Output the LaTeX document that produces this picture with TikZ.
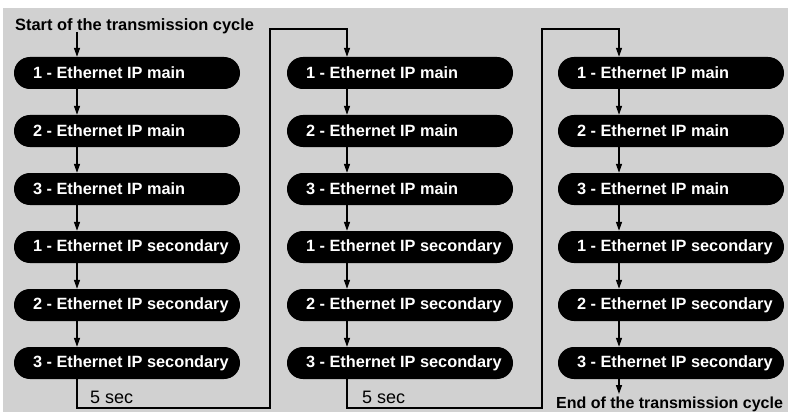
\documentclass[tikz,border=0pt]{standalone}
\usepackage{fontspec}
\setmainfont{Liberation Sans}
\usetikzlibrary{arrows.meta}
\definecolor{bg}{RGB}{209,209,209}
\newcommand{\boxtxt}[1]{\makebox[188pt][l]{#1}}
\tikzset{
  box/.style={fill=black, text=white, font=\bfseries\fontsize{16.3}{18}\selectfont,
    rounded corners=15.9pt, minimum height=32pt, inner xsep=19pt, inner ysep=0pt},
  arr/.style={line width=1.4pt, -{Triangle[length=9pt,width=6pt]}},
  lbl/.style={font=\bfseries\fontsize{16.4}{18}\selectfont, inner sep=0pt},
  sec/.style={font=\fontsize{18}{20}\selectfont, inner sep=0pt}
}
\begin{document}
\begin{tikzpicture}[x=1pt,y=-1pt]
\useasboundingbox (0,0) rectangle (788,412);
\fill[white] (0,0) rectangle (788,412);
\fill[bg] (3,8) rectangle (788,412);
% arrow columns
\coordinate (a1) at (77,0);
\coordinate (a2) at (347,0);
\coordinate (a3) at (619,0);
\foreach \c/\x in {1/127, 2/400, 3/671}{
  \foreach \r/\t in {1/1 - Ethernet IP main, 2/2 - Ethernet IP main, 3/3 - Ethernet IP main,
      4/1 - Ethernet IP secondary, 5/2 - Ethernet IP secondary, 6/3 - Ethernet IP secondary}{
    \node[box] (c\c r\r) at (\x,{73+(\r-1)*58}) {\boxtxt{\t}};
  }
}
\foreach \c in {1,2,3}{
  \foreach \r [evaluate=\r as \n using int(\r+1)] in {1,...,5}{
    \draw[arr] (c\c r\r.south -| a\c) -- (c\c r\n.north -| a\c);
  }
}
\node[lbl, anchor=base west] (start) at (15,31) {Start of the transmission cycle};
\coordinate (s0) at (77,32);
\draw[arr] (s0) -- (c1r1.north -| a1);
% loops
\coordinate (b1) at (270,408);
\coordinate (t1) at (270,29);
\coordinate (b2) at (542,408);
\coordinate (t2) at (542,29);
\draw[arr] (c1r6.south -| a1) |- (b1) -- (t1) -| (c2r1.north -| a2);
\draw[arr] (c2r6.south -| a2) |- (b2) -- (t2) -| (c3r1.north -| a3);
\node[sec, anchor=base west] (s1) at (90,403) {5 sec};
\node[sec, anchor=base west] (s2) at (362,403) {5 sec};
\node[lbl, font=\bfseries\fontsize{16}{18}\selectfont, anchor=base west] (end) at (556,408) {End of the transmission cycle};
\coordinate (e0) at (619,394);
\draw[arr] (c3r6.south -| a3) -- (e0);
\end{tikzpicture}
\end{document}
